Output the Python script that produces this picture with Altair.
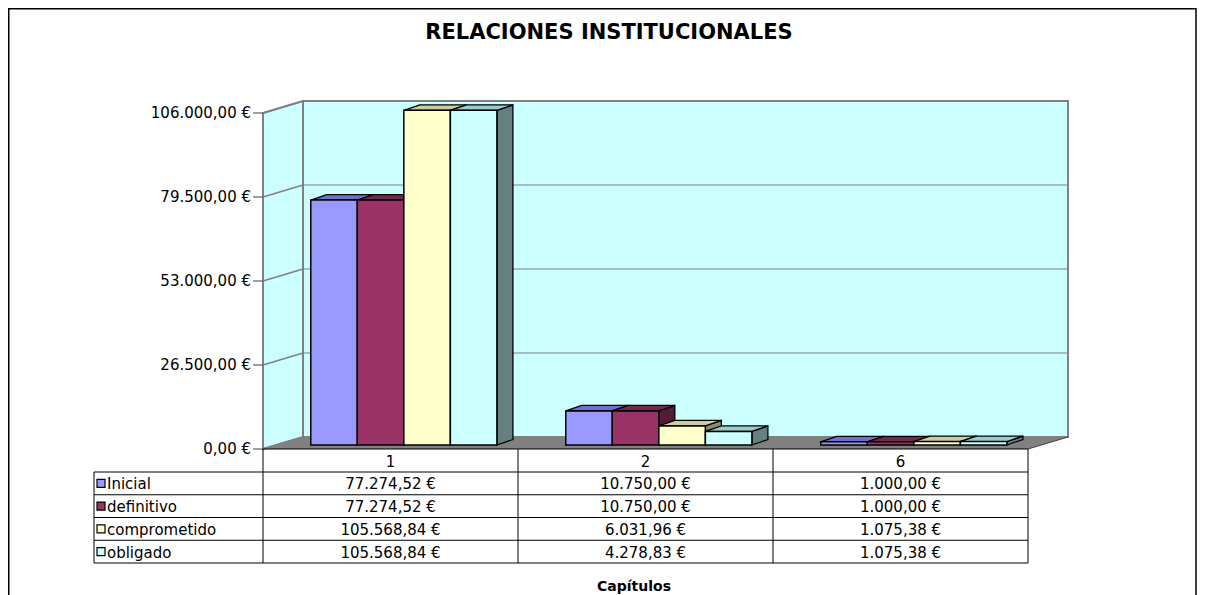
import altair as alt
import pandas as pd

# ---------------- data ----------------
TITLE = "RELACIONES INSTITUCIONALES"
AXIS_TITLE = "Capítulos"
CATEGORIES = ["1", "2", "6"]
SERIES = ["Inicial", "definitivo", "comprometido", "obligado"]
INICIAL = [77274.52, 10750.00, 1000.00]
DEFINITIVO = [77274.52, 10750.00, 1000.00]
COMPROMETIDO = [105568.84, 6031.96, 1075.38]
OBLIGADO = [105568.84, 4278.83, 1075.38]
Y_TICKS = [0, 26500, 53000, 79500, 106000]
Y_TICK_LABELS = ["0,00 €", "26.500,00 €", "53.000,00 €", "79.500,00 €", "106.000,00 €"]

VALUES = [INICIAL, DEFINITIVO, COMPROMETIDO, OBLIGADO]

# ---------------- styles / layout ----------------
FRONT = ["#9999FF", "#993366", "#FFFFCC", "#CCFFFF"]
TOP = ["#7070CC", "#70284C", "#CCCC9F", "#99CCCC"]
SIDE = ["#545490", "#541C38", "#8C8C70", "#668080"]
FONT = "DejaVu Sans"
FS = 15
W, H = 1189, 590
X_LEFT, X_RIGHT = 255, 1020      # front frame, pixels
Y_BASE, Y_TOP = 441, 105         # front frame, pixels
YMAX = Y_TICKS[-1]
NCAT = len(CATEGORIES)
SX = NCAT / (X_RIGHT - X_LEFT)   # slot units per pixel
SV = YMAX / (Y_BASE - Y_TOP)     # value units per pixel
DXS, DVV = 40 * SX, 12 * SV      # wall depth
F = 1 / 3                        # bar front depth fraction
BDX, BDV = 16 * SX, 5.5 * SV     # bar depth
GROUP = 0.73
BW = GROUP / len(SERIES)

XS = alt.Scale(domain=[0, NCAT], range=[X_LEFT, X_RIGHT], nice=False, zero=False)
YS = alt.Scale(domain=[0, YMAX], range=[Y_BASE, Y_TOP], nice=False, zero=False)


def X(f):
    return alt.X(f, type="quantitative", scale=XS, axis=None, stack=None)


def Y(f):
    return alt.Y(f, type="quantitative", scale=YS, axis=None, stack=None)


def eur(v):
    s = f"{v:,.2f}".replace(",", "X").replace(".", ",").replace("X", ".")
    return s + " €"


one = pd.DataFrame({"k": [0]})
layers = []

# outer border
layers.append(alt.Chart(one).mark_rect(fillOpacity=0, stroke="black", strokeWidth=1.5).encode(
    x=alt.value(0.75), x2=alt.value(1188), y=alt.value(0.75), y2=alt.value(H + 20)))

# side wall
side_wall = pd.DataFrame({"x": [0, DXS], "lo": [0, DVV], "hi": [YMAX, YMAX + DVV]})
layers.append(alt.Chart(side_wall).mark_area(fill="#CCFFFF", stroke="#808080", strokeWidth=2).encode(
    x=X("x"), y=Y("lo"), y2=alt.Y2("hi")))

# back wall
back = pd.DataFrame({"x": [DXS], "x2": [NCAT + DXS], "lo": [DVV], "hi": [YMAX + DVV]})
layers.append(alt.Chart(back).mark_rect(fill="#CCFFFF", stroke="#808080", strokeWidth=2).encode(
    x=X("x"), x2=alt.X2("x2"), y=Y("lo"), y2=alt.Y2("hi")))

# gridlines on back wall
grid = pd.DataFrame({"t": [t + DVV for t in Y_TICKS[1:-1]], "a": DXS, "b": NCAT + DXS})
layers.append(alt.Chart(grid).mark_rule(color="#808080", strokeWidth=1).encode(
    x=X("a"), x2=alt.X2("b"), y=Y("t")))

# floor
floor = pd.DataFrame({"y": [0, DVV], "xl": [0, DXS], "xr": [NCAT, NCAT + DXS]})
layers.append(alt.Chart(floor).mark_area(orient="horizontal", fill="#808080").encode(
    y=Y("y"), x=X("xl"), x2=alt.X2("xr")))

# connectors between front axis and back wall
conn = pd.DataFrame({"t": Y_TICKS, "t2": [t + DVV for t in Y_TICKS], "a": 0.0, "b": DXS})
layers.append(alt.Chart(conn).mark_rule(color="#808080", strokeWidth=1.5).encode(
    x=X("a"), x2=alt.X2("b"), y=Y("t"), y2=alt.Y2("t2")))

# floor right edge
fr = pd.DataFrame({"a": [NCAT], "b": [NCAT + DXS], "t": [0], "t2": [DVV]})
layers.append(alt.Chart(fr).mark_rule(color="#404040", strokeWidth=1).encode(
    x=X("a"), x2=alt.X2("b"), y=Y("t"), y2=alt.Y2("t2")))

# front axis line
fa = pd.DataFrame({"a": [0], "t": [0], "t2": [YMAX]})
layers.append(alt.Chart(fa).mark_rule(color="#808080", strokeWidth=2).encode(
    x=X("a"), y=Y("t"), y2=alt.Y2("t2")))

# ticks and labels
ticks = pd.DataFrame({"t": Y_TICKS, "label": Y_TICK_LABELS})
layers.append(alt.Chart(ticks).mark_rule(color="#404040", strokeWidth=1).encode(
    x=alt.value(245), x2=alt.value(X_LEFT), y=Y("t")))
layers.append(alt.Chart(ticks).mark_text(align="right", baseline="middle", font=FONT, fontSize=FS).encode(
    x=alt.value(243), y=Y("t"), text="label:N"))

# bars (3D)
fronts, sides, tops = [], [], []
for ci, cat in enumerate(CATEGORIES):
    for si, s in enumerate(SERIES):
        v = VALUES[si][ci]
        x0 = ci + (1 - GROUP) / 2 + si * BW + F * DXS
        x1 = x0 + BW
        yb = F * DVV
        yt = v + F * DVV
        bid = f"{cat}-{s}"
        fronts.append({"series": s, "x0": x0, "x1": x1, "yb": yb, "yt": yt})
        sides.append({"series": s, "bid": bid, "x": x1, "lo": yb, "hi": yt})
        sides.append({"series": s, "bid": bid, "x": x1 + BDX, "lo": yb + BDV, "hi": yt + BDV})
        tops.append({"series": s, "bid": bid, "y": yt, "xl": x0, "xr": x1})
        tops.append({"series": s, "bid": bid, "y": yt + BDV, "xl": x0 + BDX, "xr": x1 + BDX})

layers.append(alt.Chart(pd.DataFrame(sides)).mark_area(stroke="black", strokeWidth=1.3).encode(
    x=X("x"), y=Y("lo"), y2=alt.Y2("hi"), detail="bid:N",
    fill=alt.Fill("series:N", scale=alt.Scale(domain=SERIES, range=SIDE), legend=None)))
layers.append(alt.Chart(pd.DataFrame(tops)).mark_area(orient="horizontal", stroke="black", strokeWidth=1.3).encode(
    y=Y("y"), x=X("xl"), x2=alt.X2("xr"), detail="bid:N",
    fill=alt.Fill("series:N", scale=alt.Scale(domain=SERIES, range=TOP), legend=None)))
layers.append(alt.Chart(pd.DataFrame(fronts)).mark_rect(stroke="black", strokeWidth=1.5).encode(
    x=X("x0"), x2=alt.X2("x1"), y=Y("yb"), y2=alt.Y2("yt"),
    fill=alt.Fill("series:N", scale=alt.Scale(domain=SERIES, range=FRONT), legend=None)))

# ---------------- data table ----------------
T_LEFT = 86
ROW_TOP = 464
ROW_H = 22.75
T_BOTTOM = ROW_TOP + ROW_H * len(SERIES)

# header top line (floor front edge)
ht = pd.DataFrame({"a": [0], "b": [NCAT], "t": [0]})
layers.append(alt.Chart(ht).mark_rule(color="black", strokeWidth=1.2).encode(
    x=X("a"), x2=alt.X2("b"), y=Y("t")))
# horizontal row lines
for r in range(len(SERIES) + 1):
    yy = ROW_TOP + r * ROW_H
    layers.append(alt.Chart(one).mark_rule(color="black", strokeWidth=1).encode(
        x=alt.value(T_LEFT), x2=alt.value(X_RIGHT), y=alt.value(yy)))
# vertical column lines
cols = pd.DataFrame({"s": list(range(NCAT + 1))})
layers.append(alt.Chart(cols).mark_rule(color="black", strokeWidth=1).encode(
    x=X("s"), y=alt.value(Y_BASE), y2=alt.value(T_BOTTOM)))
layers.append(alt.Chart(one).mark_rule(color="black", strokeWidth=1).encode(
    x=alt.value(T_LEFT), y=alt.value(ROW_TOP), y2=alt.value(T_BOTTOM)))

# header categories
hdr = pd.DataFrame({"xc": [i + 0.5 for i in range(NCAT)], "cat": CATEGORIES})
layers.append(alt.Chart(hdr).mark_text(font=FONT, fontSize=FS, baseline="middle").encode(
    x=X("xc"), y=alt.value((Y_BASE + ROW_TOP) / 2 + 1), text="cat:N"))

for si, s in enumerate(SERIES):
    rc = ROW_TOP + ROW_H * si + ROW_H / 2
    row = pd.DataFrame({"xc": [i + 0.5 for i in range(NCAT)],
                        "label": [eur(v) for v in VALUES[si]]})
    layers.append(alt.Chart(row).mark_text(font=FONT, fontSize=FS, baseline="middle").encode(
        x=X("xc"), y=alt.value(rc + 1), text="label:N"))
    layers.append(alt.Chart(one).mark_rect(fill=FRONT[si], stroke="black", strokeWidth=1.2).encode(
        x=alt.value(89), x2=alt.value(97), y=alt.value(rc - 4), y2=alt.value(rc + 4)))
    layers.append(alt.Chart(one).mark_text(font=FONT, fontSize=FS, align="left", baseline="middle").encode(
        x=alt.value(99), y=alt.value(rc + 1), text=alt.value(s)))

# titles
layers.append(alt.Chart(one).mark_text(font=FONT, fontSize=21, fontWeight="bold", baseline="middle").encode(
    x=alt.value(601), y=alt.value(25), text=alt.value(TITLE)))
layers.append(alt.Chart(one).mark_text(font=FONT, fontSize=14, fontWeight="bold", baseline="middle").encode(
    x=alt.value(626), y=alt.value(579), text=alt.value(AXIS_TITLE)))

chart = (
    alt.layer(*layers)
    .resolve_scale(fill="independent")
    .properties(width=W, height=H, padding=0, autosize=alt.AutoSizeParams(type="none"))
    .configure_view(strokeWidth=0)
)
chart.save("out.html", embed_options={"renderer": "svg", "actions": False})
